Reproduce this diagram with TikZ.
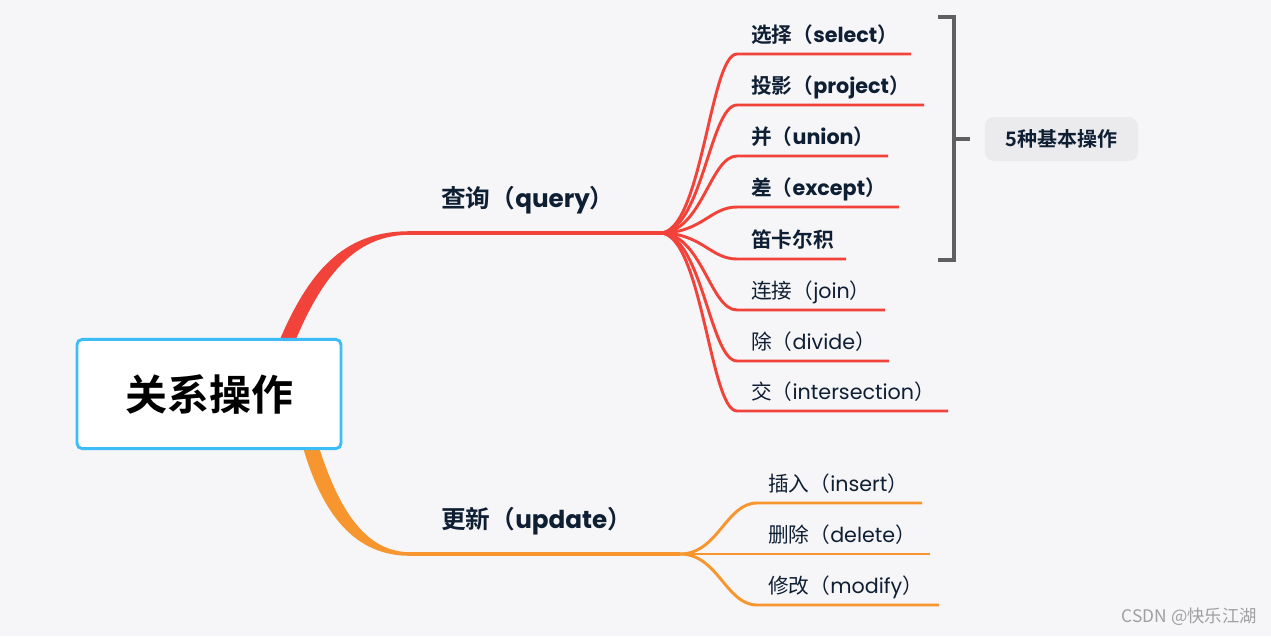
\documentclass[tikz,border=0pt]{standalone}
\usepackage{fontspec}
\setmainfont{Poppins}
\newfontfamily\cjk{Noto Sans CJK SC}[BoldFont={Noto Sans CJK SC Bold}]
\definecolor{bgc}{HTML}{F6F6F8}
\definecolor{redc}{HTML}{F2433A}
\definecolor{orc}{HTML}{F7952F}
\definecolor{boxc}{HTML}{3CBDF5}
\definecolor{txtc}{HTML}{0E1E33}
\definecolor{brc}{HTML}{606060}
\definecolor{tagc}{HTML}{EBEBED}
\definecolor{wmc}{HTML}{A0A0A0}
\tikzset{
  childtxt/.style={anchor=base west,inner sep=0pt,text=txtc,font=\fontsize{15.5pt}{18pt}\selectfont},
  boldtxt/.style={childtxt,font=\fontsize{15.5pt}{18pt}\selectfont\bfseries},
  redline/.style={draw=redc,line width=2.2pt},
  orline/.style={draw=orc,line width=2.2pt},
  brline/.style={draw=brc,line width=2.3pt},
}
\begin{document}
\begin{tikzpicture}[x=0.75pt,y=-0.75pt]
\useasboundingbox (0,0) rectangle (1271,636);
\fill[bgc] (0,0) rectangle (1271,636);

% coordinates
\coordinate (qs) at (410,233);
\coordinate (qj) at (660,233);
\coordinate (us) at (410,554);
\coordinate (uj) at (680,554);

% thick tapering main branches
\fill[redc] (278,344) .. controls (312,262) and (350,231.2) .. (410,231.2)
  -- (410,234.8) .. controls (360,234.8) and (325,268) .. (294,344) -- cycle;
\fill[orc] (302,444) .. controls (322,515) and (355,555.8) .. (410,555.8)
  -- (410,552.2) .. controls (368,552) and (340,515) .. (318,444) -- cycle;

% trunks
\draw[redc,line width=2.6pt] (qs) -- (qj);
\draw[orc,line width=2.6pt] (us) -- (uj);

% root
\node[draw=boxc,line width=2.2pt,fill=white,rounded corners=4pt,
  minimum width=198pt,minimum height=82pt,inner sep=0pt] (root) at (209,394)
  {\cjk\bfseries\fontsize{31.5pt}{34pt}\selectfont 关系操作};

% branch labels
\node[anchor=base west,inner sep=0pt,text=txtc,font=\fontsize{18.5pt}{22pt}\selectfont\bfseries] (query) at (441,207) {{\cjk 查询（}query{\cjk ）}};
\node[anchor=base west,inner sep=0pt,text=txtc,font=\fontsize{18.5pt}{22pt}\selectfont\bfseries] (update) at (441,528) {{\cjk 更新（}update{\cjk ）}};

% query children
\foreach \y/\e/\n in {54/911/c1,105/924/c2,156/888/c3,207/899/c4,259/846/c5,310/885/c6,361/889/c7,411/948/c8}{
  \coordinate (\n s) at (737,\y);
  \coordinate (\n e) at (\e,\y);
  \draw[redline] (qj) .. controls (702,233) and (710,\y) .. (\n s) -- (\n e);
}
\node[boldtxt] (t1) at (751,42) {{\cjk 选择（}select{\cjk ）}};
\node[boldtxt] (t2) at (751,93) {{\cjk 投影（}project{\cjk ）}};
\node[boldtxt] (t3) at (751,144) {{\cjk 并（}union{\cjk ）}};
\node[boldtxt] (t4) at (751,195) {{\cjk 差（}except{\cjk ）}};
\node[boldtxt] (t5) at (751,247) {{\cjk 笛卡尔积}};
\node[childtxt] (t6) at (751,298) {{\cjk 连接（}join{\cjk ）}};
\node[childtxt] (t7) at (751,349) {{\cjk 除（}divide{\cjk ）}};
\node[childtxt] (t8) at (751,399) {{\cjk 交（}intersection{\cjk ）}};

% update children
\foreach \y/\e/\n in {503/922/d1,554/930/d2,605/939/d3}{
  \coordinate (\n s) at (757,\y);
  \coordinate (\n e) at (\e,\y);
  \draw[orline] (uj) .. controls (718,554) and (726,\y) .. (\n s) -- (\n e);
}
\node[childtxt] (u1) at (768,491) {{\cjk 插入（}insert{\cjk ）}};
\node[childtxt] (u2) at (768,542) {{\cjk 删除（}delete{\cjk ）}};
\node[childtxt] (u3) at (768,593) {{\cjk 修改（}modify{\cjk ）}};

% bracket
\coordinate (bt) at (938,17);
\coordinate (bb) at (938,260);
\coordinate (bm) at (970,139);
\draw[brline] (bt) -- (954,17) -- (954,260) -- (bb);
\draw[brline] (954,139) -- (bm);

% tag
\node[fill=tagc,rounded corners=7pt,minimum width=115pt,minimum height=33pt,inner sep=0pt,
  text=txtc,font=\cjk\bfseries\fontsize{15pt}{18pt}\selectfont] (tag) at (1061.5,139) {5种基本操作};

% watermark
\node[anchor=east,inner sep=0pt,text=wmc,font=\cjk\fontsize{13pt}{15pt}\selectfont] (wm) at (1257,617) {CSDN @快乐江湖};
\end{tikzpicture}
\end{document}
